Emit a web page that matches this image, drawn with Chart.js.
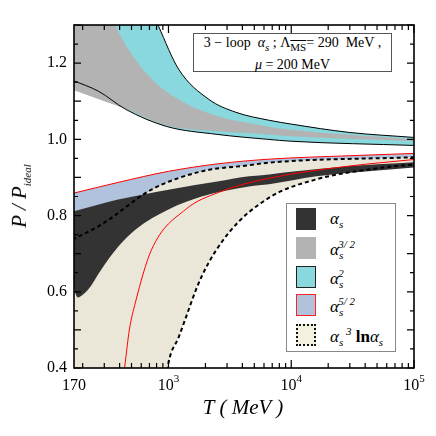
<!DOCTYPE html>
<html>
<head>
<meta charset="utf-8">
<script src="https://cdn.jsdelivr.net/npm/chart.js@4"></script>
<style>
  body { margin: 0; background: #fff; }
  #wrap { position: relative; width: 436px; height: 436px; font-family: "Liberation Serif", serif; }
  canvas { position: absolute; left: 0; top: 0; }
  .ovl { position: absolute; color: #000; }
  #note { left: 193px; top: 33px; width: 197px; height: 37px; border: 1px solid #555; background: #fff;
          font-size: 14px; text-align: center; line-height: 17px; }
  #legend { left: 286px; top: 203px; width: 108px; height: 147px; border: 1px solid #888; background: #fff; }
  .row { position: absolute; left: 9px; height: 23px; width: 100px; }
  .sw { position: absolute; left: 0; top: 0; width: 20px; height: 22px; box-sizing: border-box; }
  .lab { position: absolute; left: 34px; top: 1px; font-size: 17px; font-style: italic; white-space: nowrap; }
  sub, sup { font-size: 11px; }
  #xt { left: 0; width: 436px; top: 395px; text-align: center; font-size: 21px; font-style: italic; padding-left: 50px; box-sizing: border-box; }
  #yt { left: -40px; top: 183px; width: 120px; text-align: center; font-size: 21px; font-style: italic; transform: rotate(-90deg); }
</style>
</head>
<body>
<div id="wrap">
  <canvas id="c" width="436" height="436"></canvas>
  <div class="ovl" id="note">3 − loop &nbsp;<i>α<sub>s</sub></i> ; Λ<sub><span style="text-decoration:overline">MS</span></sub>= 290 &nbsp;MeV ,<br><i>μ</i> = 200 MeV</div>
  <div class="ovl" id="legend">
    <div class="row" style="top:4px"><div class="sw" style="background:#333"></div><div class="lab">α<sub>s</sub></div></div>
    <div class="row" style="top:33px"><div class="sw" style="background:#b3b3b3"></div><div class="lab">α<sub>s</sub><sup style="position:relative;left:-5px">3/ 2</sup></div></div>
    <div class="row" style="top:62px"><div class="sw" style="background:#88d8de;border:1.5px solid #222"></div><div class="lab">α<sub>s</sub><sup style="position:relative;left:-5px">2</sup></div></div>
    <div class="row" style="top:90px"><div class="sw" style="background:#b0c2dc;border:1.5px solid #f22"></div><div class="lab">α<sub>s</sub><sup style="position:relative;left:-5px">5/ 2</sup></div></div>
    <div class="row" style="top:120px"><div class="sw" style="background:#f3f1e0;border:2px dotted #111"></div><div class="lab">α<sub>s</sub><sup> 3</sup> <b style="font-style:normal">ln</b>α<sub>s</sub></div></div>
  </div>
  <div class="ovl" id="xt">T ( MeV )</div>
  <div class="ovl" id="yt">P / P<sub>ideal</sub></div>
</div>
<script>
// bands, T in MeV, y = P/P_ideal
const cyanTopT = [170, 500, 750, 830, 1210, 2130, 3540, 6610, 10000, 30000, 100000];
const cyanTopY = [2.0, 1.5, 1.33, 1.297, 1.184, 1.105, 1.071, 1.05, 1.04, 1.018, 1.005];
const grayTopT = [170, 250, 372, 692, 1330, 2490, 6440, 10000, 100000];
const grayTopY = [1.7, 1.45, 1.297, 1.166, 1.097, 1.061, 1.034, 1.025, 1.0];
const blackLineT = [165, 270, 447, 960, 2490, 6440, 10000, 100000];
const blackLineY = [1.155, 1.126, 1.079, 1.034, 1.013, 1.0, 0.995, 0.984];
const grayLowT = [165, 270, 447, 960, 2490, 6440, 10000, 100000];
const grayLowY = [1.13, 1.105, 1.08, 1.036, 1.021, 1.013, 1.008, 0.995];

const redUpT = [165, 389, 1000, 2570, 6610, 30000, 100000];
const redUpY = [0.858, 0.887, 0.916, 0.936, 0.948, 0.957, 0.963];
const redLowT = [170, 420, 444, 480, 537, 727, 1378, 2570, 6610, 30000, 100000];
const redLowY = [-1, 0.35, 0.413, 0.5, 0.571, 0.71, 0.816, 0.861, 0.898, 0.93, 0.947];
const dashUpT = [165, 283, 727, 1862, 4530, 6610, 100000];
const dashUpY = [0.737, 0.776, 0.868, 0.916, 0.932, 0.939, 0.953];
const dashLowT = [170, 850, 950, 1000, 1208, 1862, 3105, 6610, 16030, 55660, 100000];
const dashLowY = [-1, 0.22, 0.36, 0.413, 0.48, 0.64, 0.755, 0.847, 0.895, 0.926, 0.934];
const blackTopT = [165, 389, 1000, 2570, 4530, 6610, 10000, 30000, 100000];
const blackTopY = [0.81, 0.842, 0.868, 0.89, 0.903, 0.908, 0.915, 0.93, 0.94];
const blackLowT = [165, 175, 183, 200, 221, 283, 389, 537, 1000, 1862, 4530, 6610, 16030, 100000];
const blackLowY = [0.63, 0.595, 0.585, 0.592, 0.605, 0.658, 0.718, 0.763, 0.816, 0.85, 0.876, 0.882, 0.903, 0.926];

const yLabels = ['0.4', '0.6', '0.8', '1.0', '1.2'];
const xLabels = [[170, '170', ''], [1e3, '10', '3'], [1e4, '10', '4'], [1e5, '10', '5']];

const pts = (xs, ys) => xs.map((x, i) => ({ x: x, y: ys[i] }));
const base = { pointRadius: 0, cubicInterpolationMode: 'monotone', borderWidth: 0, fill: false };

// line datasets (indices 0..7)
const lines = [
  { data: pts(blackLineT, blackLineY), borderColor: '#000', borderWidth: 1 },       // 0
  { data: pts(cyanTopT, cyanTopY), borderColor: '#000', borderWidth: 1 },           // 1
  { data: pts(redUpT, redUpY), borderColor: '#f00', borderWidth: 1 },               // 2
  { data: pts(redLowT, redLowY), borderColor: '#f00', borderWidth: 1 },             // 3
  { data: pts(dashUpT, dashUpY), borderColor: '#000', borderWidth: 2, borderDash: [4, 3] }, // 4
  { data: pts(dashLowT, dashLowY), borderColor: '#000', borderWidth: 2, borderDash: [4, 3] }, // 5
  { data: pts(grayLowT, grayLowY), borderColor: 'rgba(0,0,0,0)' },                 // 6
  { data: pts(blackLowT, blackLowY), borderColor: 'rgba(0,0,0,0)' }                // 7
].map(d => Object.assign({}, base, d, { order: 0 }));

const fills = [
  { data: pts(redUpT, redUpY), fill: { target: 3 }, backgroundColor: '#b0c2dc', order: 10 },
  { data: pts(cyanTopT, cyanTopY), fill: { target: 0 }, backgroundColor: '#88d8de', order: 9 },
  { data: pts(grayTopT, grayTopY), fill: { target: 6 }, backgroundColor: '#b3b3b3', order: 8 },
  { data: pts(dashUpT, dashUpY), fill: { target: 5 }, backgroundColor: '#ebe7d8', order: 7 },
  { data: pts(blackTopT, blackTopY), fill: { target: 7 }, backgroundColor: '#333333', order: 6 }
].map(d => Object.assign({}, base, { borderColor: 'rgba(0,0,0,0)' }, d));

const frame = {
  id: 'frame',
  afterDraw(chart) {
    const { ctx, chartArea: a, scales: { x, y } } = chart;
    ctx.save();
    ctx.strokeStyle = '#000';
    ctx.lineWidth = 1.2;
    ctx.beginPath();
    for (let k = 0; k <= 18; k++) {
      const v = 0.4 + k * 0.05;
      const py = y.getPixelForValue(v);
      const len = (k % 2 === 0) ? 7 : 4;
      ctx.moveTo(a.left, py); ctx.lineTo(a.left + len, py);
      ctx.moveTo(a.right, py); ctx.lineTo(a.right - len, py);
    }
    for (let e = 2; e <= 5; e++) {
      for (let m = 1; m <= 9; m++) {
        const v = m * Math.pow(10, e);
        if (v < 170 || v > 1e5) continue;
        const px = x.getPixelForValue(v);
        const len = m === 1 ? 8 : 5;
        ctx.moveTo(px, a.bottom); ctx.lineTo(px, a.bottom - len);
        ctx.moveTo(px, a.top); ctx.lineTo(px, a.top + len);
      }
    }
    ctx.stroke();
    ctx.lineWidth = 1.6;
    ctx.strokeRect(a.left, a.top, a.right - a.left, a.bottom - a.top);
    ctx.fillStyle = '#000';
    ctx.font = '16px "Liberation Serif"';
    ctx.textAlign = 'right';
    ctx.textBaseline = 'middle';
    yLabels.forEach(t => ctx.fillText(t, a.left - 7, y.getPixelForValue(parseFloat(t))));
    ctx.textBaseline = 'alphabetic';
    xLabels.forEach(([v, b, s]) => {
      const px = x.getPixelForValue(v);
      ctx.font = '16px "Liberation Serif"';
      const wb = ctx.measureText(b).width;
      ctx.font = '11px "Liberation Serif"';
      const ws = s ? ctx.measureText(s).width : 0;
      const x0 = px - (wb + ws) / 2;
      ctx.textAlign = 'left';
      ctx.font = '16px "Liberation Serif"';
      ctx.fillText(b, x0, a.bottom + 22);
      if (s) { ctx.font = '11px "Liberation Serif"'; ctx.fillText(s, x0 + wb, a.bottom + 14); }
    });
    ctx.restore();
  }
};

new Chart(document.getElementById('c'), {
  type: 'line',
  data: { datasets: lines.concat(fills) },
  options: {
    responsive: false,
    animation: false,
    parsing: true,
    layout: { padding: { left: 74, right: 22, top: 25, bottom: 68 } },
    plugins: { legend: { display: false }, tooltip: { enabled: false } },
    scales: {
      x: { type: 'logarithmic', min: 170, max: 100000, display: false },
      y: { type: 'linear', min: 0.4, max: 1.3, display: false }
    }
  },
  plugins: [frame]
});
</script>
</body>
</html>
